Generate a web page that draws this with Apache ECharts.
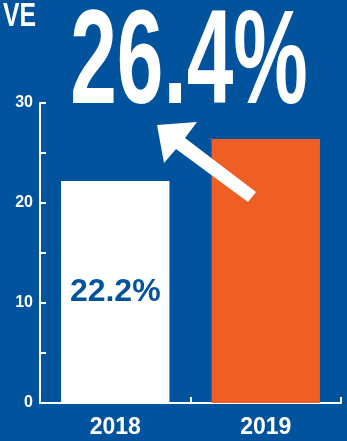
<!DOCTYPE html>
<html>
<head>
<meta charset="utf-8">
<script src="https://cdn.jsdelivr.net/npm/echarts@6/dist/echarts.min.js"></script>
<style>
  html, body { margin: 0; padding: 0; background: #02539e; }
  #main { width: 347px; height: 441px; }
</style>
</head>
<body>
<div id="main"></div>
<script>
// data
var years = ['2018', '2019'];
var shares = [22.2, 26.4];
var barColors = ['#ffffff', '#ef5e24'];
var yTicks = [0, 10, 20, 30];

var blue = '#02539e';
var font = "'Liberation Sans', Arial, sans-serif";

var myChart = echarts.init(document.getElementById('main'));
myChart.setOption({
    backgroundColor: blue,
    animation: false,
    grid: { left: 40, right: 6, top: 103, bottom: 38 },
    xAxis: {
        type: 'category',
        data: years,
        axisLine: { lineStyle: { color: '#fff', width: 2 } },
        axisTick: { show: true, inside: true, length: 6, lineStyle: { color: '#fff', width: 2 } },
        axisLabel: { color: '#fff', fontFamily: font, fontWeight: 'bold', fontSize: 23, margin: 13 }
    },
    yAxis: {
        type: 'value',
        min: yTicks[0],
        max: yTicks[yTicks.length - 1],
        interval: 10,
        splitLine: { show: false },
        axisLine: { show: true, lineStyle: { color: '#fff', width: 2 } },
        axisTick: { show: true, inside: true, length: 6, lineStyle: { color: '#fff', width: 2 } },
        minorTick: { show: true, splitNumber: 2, length: 6, lineStyle: { color: '#fff', width: 2 } },
        axisLabel: { color: '#fff', fontFamily: font, fontWeight: 'bold', fontSize: 16, margin: 7 }
    },
    series: [{
        type: 'bar',
        barWidth: '72%',
        data: shares.map(function (v, i) {
            return {
                value: v,
                itemStyle: { color: barColors[i] },
                label: { show: i == 0 }
            };
        }),
        label: {
            position: 'inside',
            formatter: '{c}%',
            color: blue,
            fontFamily: font,
            fontWeight: 'bold',
            fontSize: 32
        }
    }],
    graphic: [
        {
            // tail of a heading that is cut off at the left edge
            type: 'text', x: 36, y: 17, scaleX: 0.75, z: 10,
            style: {
                text: 'VE', fill: '#fff', font: 'bold 33px ' + font,
                align: 'right', verticalAlign: 'middle'
            }
        },
        {
            type: 'text', x: 189, y: 66, scaleX: 0.63, z: 10,
            style: {
                text: shares[1] + '%', fill: '#fff', font: 'bold 133px ' + font,
                align: 'center', verticalAlign: 'middle'
            }
        },
        {
            // arrow pointing to the big number
            type: 'polygon', z: 10,
            shape: { points: [[157, 125], [197, 122], [185, 138], [256, 192], [248, 202], [176, 149], [164, 163]] },
            style: { fill: '#fff' }
        }
    ]
});
</script>
</body>
</html>
